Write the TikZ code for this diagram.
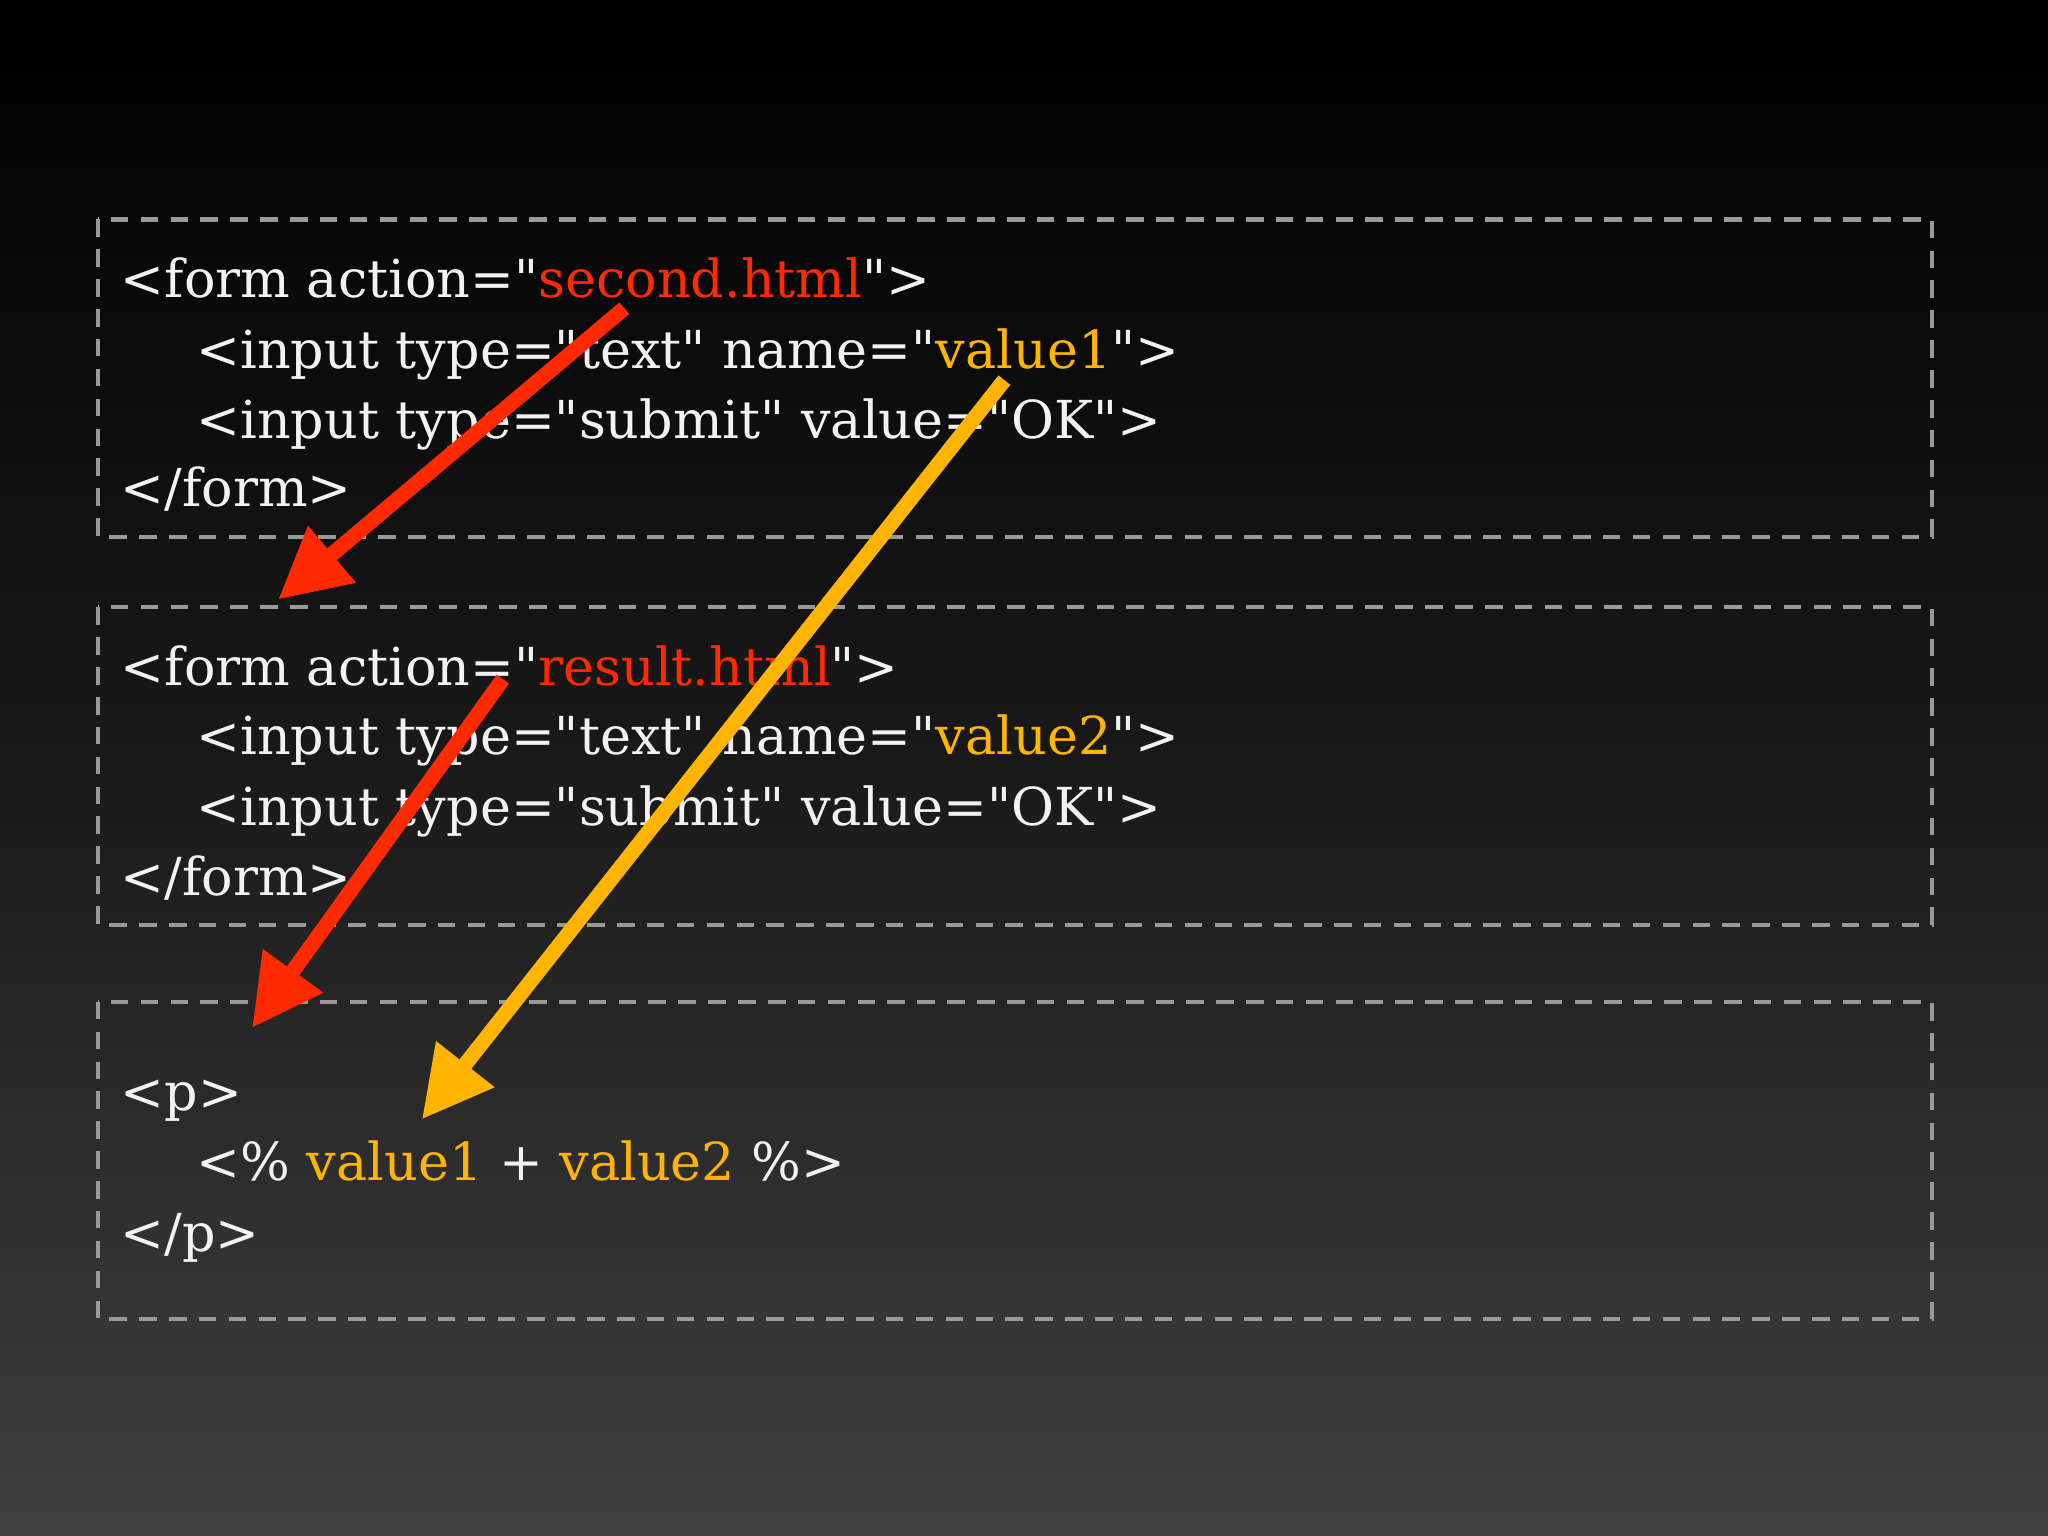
\documentclass[tikz,border=0pt]{standalone}
\usepackage{fontspec}
\setmainfont{DejaVu Serif}[Ligatures=TeXOff]
\usetikzlibrary{arrows.meta}
\definecolor{cred}{HTML}{FF2A00}
\definecolor{cyel}{HTML}{FFB400}
\definecolor{ctxt}{HTML}{F2F2F2}
\newcommand{\qq}{"}
\begin{document}
\begin{tikzpicture}[x=0.013061cm,y=-0.013061cm,
  code/.style={anchor=base west,inner sep=0,text=ctxt,font=\fontsize{14.9}{18}\selectfont},
  box/.style={draw=gray!80,dash pattern=on 5pt off 3.5pt,line width=1.2pt},
  arr/.style={line width=4.3pt,-{Triangle[length=20pt,width=20pt]}}]
\shade[top color=black,bottom color=black!75!white,middle color=black!90!white] (0,0) rectangle (1568,1176);
\useasboundingbox (0,0) rectangle (1568,1176);
\draw[box] (75,168) rectangle (1479,411);
\draw[box] (75,465) rectangle (1479,708);
\draw[box] (75,767) rectangle (1479,1010);
\node[code] (a1) at (92,228) {<form action=\qq\textcolor{cred}{second.html}\qq>};
\node[code] (a2) at (150,282) {<input type=\qq text\qq{} name=\qq\textcolor{cyel}{value1}\qq>};
\node[code] (a3) at (150,336) {<input type=\qq submit\qq{} value=\qq OK\qq>};
\node[code] (a4) at (92,388) {</form>};
\node[code] (b1) at (92,525) {<form action=\qq\textcolor{cred}{result.html}\qq>};
\node[code] (b2) at (150,578) {<input type=\qq text\qq{} name=\qq\textcolor{cyel}{value2}\qq>};
\node[code] (b3) at (150,632) {<input type=\qq submit\qq{} value=\qq OK\qq>};
\node[code] (b4) at (92,686) {</form>};
\node[code] (c1) at (92,850) {<p>};
\node[code] (c2) at (150,904) {<\% \textcolor{cyel}{value1} + \textcolor{cyel}{value2} \%>};
\node[code] (c3) at (92,958) {</p>};
\coordinate (r1s) at (478,236); \coordinate (r1e) at (213,459);
\coordinate (r2s) at (385,520); \coordinate (r2e) at (193,787);
\coordinate (ys) at (769,291); \coordinate (ye) at (323,857);
\draw[arr,cred] (r1s) -- (r1e);
\draw[arr,cred] (r2s) -- (r2e);
\draw[arr,cyel] (ys) -- (ye);
\end{tikzpicture}
\end{document}
